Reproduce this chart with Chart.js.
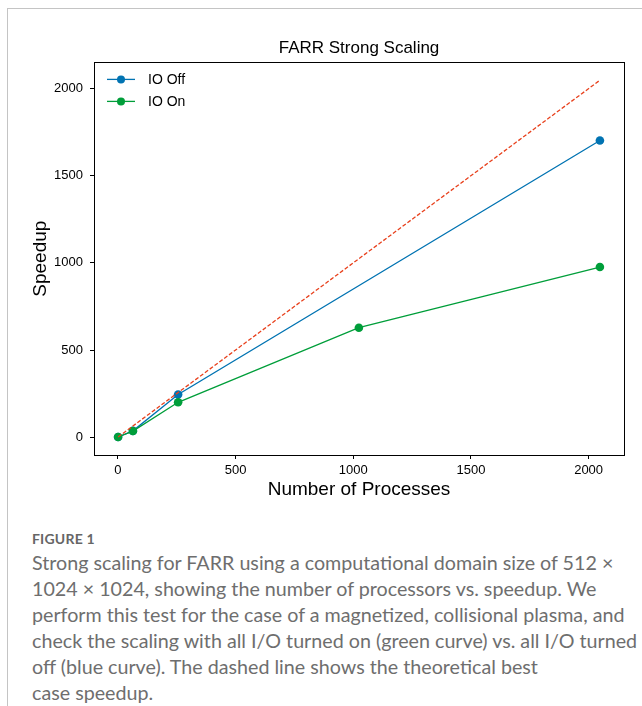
<!DOCTYPE html>
<html>
<head>
<meta charset="utf-8">
<script src="https://cdn.jsdelivr.net/npm/chart.js@4.4.1/dist/chart.umd.min.js"></script>
<style>
  html, body { margin: 0; padding: 0; background: #fff; }
  body { width: 642px; height: 706px; position: relative; overflow: hidden; }
  .frame { position: absolute; left: 7px; top: 8px; right: 0; bottom: 0;
           border-top: 1px solid #c4c4c4; border-left: 1px solid #c4c4c4; }
  .chart-box { position: absolute; left: 0; top: 0; width: 642px; height: 510px; }
  .caption { position: absolute; left: 32px; top: 527px; font-family: Lato, "Open Sans", sans-serif;
             color: #6e6e6e; white-space: nowrap; }
  .caption .fig { font-size: 14px; font-weight: bold; color: #666; letter-spacing: 0.2px; line-height: 24px; }
  .caption .txt { font-size: 19.7px; line-height: 26px; margin-top: -1px; }
</style>
</head>
<body>
<div class="frame"></div>
<div class="chart-box"><canvas id="scalingChart"></canvas></div>
<div class="caption">
  <div class="fig">FIGURE 1</div>
  <div class="txt">Strong scaling for FARR using a computational domain size of 512 ×<br>1024 × 1024, showing the number of processors vs. speedup. We<br>perform this test for the case of a magnetized, collisional plasma, and<br>check the scaling with all I/O turned on (green curve) vs. all I/O turned<br>off (blue curve). The dashed line shows the theoretical best<br>case speedup.</div>
</div>
<script>
// processes vs speedup
const ioOffProcs = [1, 64, 256, 2048];
const ioOffSpeedup = [1, 36, 245, 1702];
const ioOnProcs = [1, 64, 256, 1024, 2048];
const ioOnSpeedup = [1, 35, 200, 628, 976];
const idealProcs = [1, 2048];
const idealSpeedup = [1, 2048];
const xTicks = [0, 500, 1000, 1500, 2000];
const yTicks = [0, 500, 1000, 1500, 2000];

const blue = '#0173b2';
const green = '#009e3a';
const red = '#e8401c';
const axisFont = 'Liberation Sans, Arial, Helvetica, sans-serif';

function toPoints(xs, ys) {
  return xs.map((x, i) => ({ x: x, y: ys[i] }));
}

// black box round the plot area
const frameBox = {
  id: 'frameBox',
  afterDatasetsDraw(chart) {
    const a = chart.chartArea, ctx = chart.ctx;
    ctx.save();
    ctx.strokeStyle = '#000';
    ctx.lineWidth = 1;
    ctx.strokeRect(Math.round(a.left) + 0.5, Math.round(a.top) + 0.5,
                   Math.round(a.right - a.left), Math.round(a.bottom - a.top));
    ctx.restore();
  }
};

// matplotlib style legend in the upper left corner (line + marker + label)
const innerLegend = {
  id: 'innerLegend',
  afterDraw(chart) {
    const a = chart.chartArea, ctx = chart.ctx;
    const shown = chart.data.datasets.filter(d => d.showInLegend);
    ctx.save();
    ctx.font = '14px ' + axisFont;
    ctx.textBaseline = 'middle';
    shown.forEach((d, i) => {
      const y = a.top + 17 + i * 22;
      const x0 = a.left + 13;
      ctx.strokeStyle = d.borderColor;
      ctx.lineWidth = 1.3;
      ctx.beginPath(); ctx.moveTo(x0, y); ctx.lineTo(x0 + 28, y); ctx.stroke();
      ctx.fillStyle = d.borderColor;
      ctx.beginPath(); ctx.arc(x0 + 14, y, 4, 0, Math.PI * 2); ctx.fill();
      ctx.fillStyle = '#000';
      ctx.fillText(d.label, x0 + 41, y + 1);
    });
    ctx.restore();
  }
};

function loadScalingChart() {
  const ctx = document.getElementById('scalingChart').getContext('2d');

  new Chart(ctx, {
    type: 'line',
    data: {
      datasets: [
        {
          label: 'IO Off',
          showInLegend: true,
          data: toPoints(ioOffProcs, ioOffSpeedup),
          borderColor: blue, backgroundColor: blue,
          borderWidth: 1.3, pointRadius: 4.3, pointBorderWidth: 0,
          tension: 0, fill: false, order: 3
        },
        {
          label: 'IO On',
          showInLegend: true,
          data: toPoints(ioOnProcs, ioOnSpeedup),
          borderColor: green, backgroundColor: green,
          borderWidth: 1.3, pointRadius: 4.3, pointBorderWidth: 0,
          tension: 0, fill: false, order: 2
        },
        {
          label: 'Ideal',
          showInLegend: false,
          data: toPoints(idealProcs, idealSpeedup),
          borderColor: red, borderDash: [4, 2],
          borderWidth: 1.3, pointRadius: 0,
          tension: 0, fill: false, order: 1
        }
      ]
    },
    options: {
      responsive: true,
      maintainAspectRatio: false,
      animation: false,
      layout: { padding: { left: 0, right: 18, top: 0, bottom: 0 } },
      plugins: {
        title: {
          display: true,
          text: 'FARR Strong Scaling',
          fullSize: false,
          color: '#000',
          font: { family: axisFont, size: 17, weight: 'normal' },
          padding: { top: 38, bottom: 4 }
        },
        legend: { display: false },
        tooltip: { enabled: false }
      },
      scales: {
        x: {
          type: 'linear',
          min: -101.35,
          max: 2150.35,
          afterFit: s => { s.height = 55; },
          afterBuildTicks: s => { s.ticks = xTicks.map(v => ({ value: v })); },
          border: { display: true, color: '#000', width: 1 },
          grid: { drawOnChartArea: false, drawTicks: true, tickLength: 4, color: '#000' },
          ticks: { color: '#000', padding: 4, maxRotation: 0, font: { family: axisFont, size: 13 },
                   callback: v => String(v) },
          title: {
            display: true, text: 'Number of Processes', color: '#000',
            font: { family: axisFont, size: 19 }, padding: { top: 0, bottom: 9 }
          }
        },
        y: {
          type: 'linear',
          min: -102.4,
          max: 2150.4,
          afterFit: s => { s.width = 94; },
          afterBuildTicks: s => { s.ticks = yTicks.map(v => ({ value: v })); },
          border: { display: true, color: '#000', width: 1 },
          grid: { drawOnChartArea: false, drawTicks: true, tickLength: 4, color: '#000' },
          ticks: { color: '#000', padding: 7, font: { family: axisFont, size: 13 },
                   callback: v => String(v) },
          title: {
            display: true, text: 'Speedup', color: '#000',
            font: { family: axisFont, size: 19 }, padding: { top: 29, bottom: 0 }
          }
        }
      }
    },
    plugins: [frameBox, innerLegend]
  });
}

window.addEventListener('DOMContentLoaded', loadScalingChart);
</script>
</body>
</html>
